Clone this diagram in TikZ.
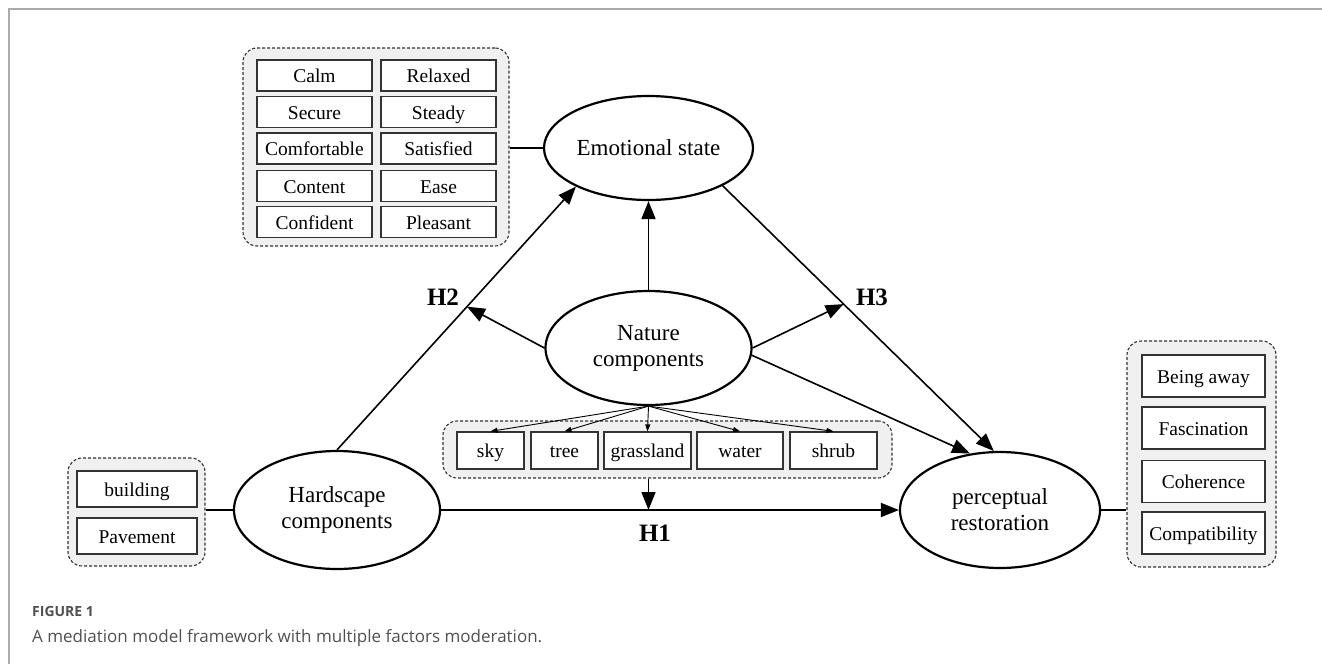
\documentclass[tikz,border=0pt]{standalone}
\usepackage{fontspec}
\setmainfont{Liberation Serif}
\newfontfamily\capfont{Open Sans}
\usetikzlibrary{shapes.geometric,arrows.meta}
\definecolor{grpfill}{HTML}{F0F0F0}
\definecolor{framegray}{HTML}{AAAAAA}
\definecolor{capgray}{HTML}{505050}
\begin{document}
\begin{tikzpicture}[x=1pt,y=-1pt,
  ell/.style={ellipse,draw=black,line width=2.2pt,inner sep=0pt,align=center,
    font=\fontsize{23}{26}\selectfont,fill=white},
  grp/.style={draw=black!80,dashed,dash pattern=on 3pt off 2pt,line width=1.1pt,
    rounded corners=14pt,fill=grpfill,inner sep=0pt},
  bx/.style={draw=black!80,line width=1.3pt,fill=white,inner sep=0pt,
    text height=15pt,text depth=1pt,
    font=\fontsize{19.5}{22}\selectfont},
  conn/.style={line width=1.6pt},
  arr/.style={line width=1.6pt,-{Triangle[length=18pt,width=14pt]}},
  sarr/.style={line width=0.9pt,-{Triangle[length=7pt,width=5pt]}},
  hlab/.style={font=\fontsize{25}{27}\selectfont\bfseries}
]
\useasboundingbox (0,0) rectangle (1322,664);
% frame
\draw[framegray,line width=1.5pt] (1322,9) -- (9,9) -- (9,664);

% groups
\node[grp,minimum width=266pt,minimum height=198pt] (eg) at (376,147) {};
\node[grp,minimum width=137pt,minimum height=108pt] (hg) at (136.5,512) {};
\node[grp,minimum width=449pt,minimum height=57pt] (ng) at (667.5,449.5) {};
\node[grp,minimum width=149pt,minimum height=226pt] (pg) at (1201.5,454) {};

% emotional boxes
\foreach \n/\t/\x/\y in {calm/Calm/314.5/75.5, relaxed/Relaxed/438.5/75.5,
  secure/Secure/314.5/112, steady/Steady/438.5/112,
  comfortable/Comfortable/314.5/148.5, satisfied/Satisfied/438.5/148.5,
  content/Content/314.5/186, ease/Ease/438.5/186,
  confident/Confident/314.5/222, pleasant/Pleasant/438.5/222}
  \node[bx,minimum width=115pt,minimum height=31pt] (\n) at (\x,\y) {\t};

% hardscape boxes
\node[bx,minimum width=120pt,minimum height=36pt] (building) at (137,489) {building};
\node[bx,minimum width=120pt,minimum height=36pt] (pavement) at (137,536) {Pavement};

% nature boxes
\node[bx,minimum width=67pt,minimum height=37pt] (sky) at (490.5,450.5) {sky};
\node[bx,minimum width=67pt,minimum height=37pt] (tree) at (564.5,450.5) {tree};
\node[bx,minimum width=87pt,minimum height=37pt] (grass) at (647.5,450.5) {grassland};
\node[bx,minimum width=86pt,minimum height=37pt] (water) at (740,450.5) {water};
\node[bx,minimum width=87pt,minimum height=37pt] (shrub) at (833.5,450.5) {shrub};

% perceptual boxes
\node[bx,minimum width=123pt,minimum height=42pt] (away) at (1203.5,376) {Being away};
\node[bx,minimum width=123pt,minimum height=42pt] (fasc) at (1203.5,428) {Fascination};
\node[bx,minimum width=123pt,minimum height=42pt] (coh) at (1203.5,481.5) {Coherence};
\node[bx,minimum width=123pt,minimum height=42pt] (comp) at (1203.5,533) {Compatibility};

% ellipses
\node[ell,minimum width=209pt,minimum height=104pt] (emo) at (648.5,148) {Emotional state};
\node[ell,minimum width=206pt,minimum height=114pt] (nat) at (648.5,348) {Nature\\components};
\node[ell,minimum width=206pt,minimum height=118pt] (hard) at (337,510) {Hardscape\\components};
\node[ell,minimum width=200pt,minimum height=116pt] (perc) at (1000,510) {perceptual\\restoration};

% group connectors
\draw[conn] (eg.east |- emo.west) -- (emo.west);
\draw[conn] (hg.east |- hard.west) -- (hard.west);
\draw[conn] (perc.east) -- (perc.east -| pg.west);

% H1
\draw[arr] (hard.east) -- (perc.west);
\node[hlab] (h1) at (655,533) {H1};
\draw[arr] (nat.south |- ng.south) -- (nat.south |- hard.east);

% nature to boxes
\foreach \b in {sky,tree,grass,water,shrub}
  \draw[sarr] (nat.south) -- (\b.north);

% nature to emotional
\draw[arr] (nat.north) -- (emo.south);

% H2
\draw[arr] (hard.north) -- (emo.208) coordinate[pos=0.544] (h2m);
\draw[arr] (nat.west) -- (h2m);
\node[hlab] (h2) at (443,297) {H2};

% H3
\draw[arr] (emo.333) -- (perc.96) coordinate[pos=0.446] (h3m);
\draw[arr] (nat.east) -- (h3m);
\node[hlab] (h3) at (872,297) {H3};

% nature to perceptual
\draw[arr] (nat.-4) -- (perc.118);

% caption
\node[anchor=base west,inner sep=0pt,text=capgray,font=\capfont\fontsize{14}{16}\selectfont\bfseries] (figno) at (32,616) {FIGURE 1};
\node[anchor=base west,inner sep=0pt,text=capgray,font=\capfont\fontsize{17}{20}\selectfont] (cap) at (32,642) {A mediation model framework with multiple factors moderation.};
\end{tikzpicture}
\end{document}
